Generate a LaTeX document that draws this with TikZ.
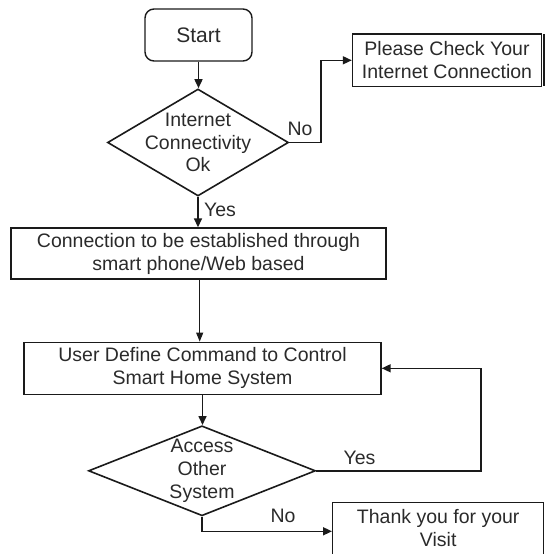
\documentclass[tikz,border=0pt]{standalone}
\usepackage{fontspec}
\setmainfont{Liberation Sans}
\usetikzlibrary{arrows.meta,shapes.geometric}
\definecolor{txt}{HTML}{2A2A2A}
\definecolor{ln}{HTML}{1A1A1A}
\tikzset{
  base/.style={draw=ln, line width=1.4pt, text=txt, align=center, inner sep=0pt,
    font=\fontsize{19.5pt}{23pt}\selectfont},
  proc/.style={base, rectangle},
  term/.style={base, rectangle, rounded corners=9pt},
  dec/.style={base, diamond, line width=1.6pt},
  arr/.style={draw=ln, line width=1.6pt, -{Triangle[length=9pt,width=8pt]}},
  thinarr/.style={draw=ln, line width=0.9pt, -{Triangle[length=9pt,width=7pt]}},
  lbl/.style={text=txt, inner sep=0pt, font=\fontsize{19.5pt}{23pt}\selectfont}
}
\begin{document}
\begin{tikzpicture}[x=1pt,y=-1pt]
\useasboundingbox (0,0) rectangle (545,554);
\node[term, minimum width=107pt, minimum height=52pt, font=\fontsize{21pt}{24pt}\selectfont] (start) at (198.5,35) {Start};
\node[dec, minimum width=181pt, minimum height=107pt,
      label={[lbl, align=center, font=\fontsize{19.5pt}{22.5pt}\selectfont]center:Internet\\Connectivity\\Ok}] (d1) at (198,142.5) {};
\node[proc, minimum width=189pt, minimum height=52.5pt] (check) at (447,60.3) {Please Check Your\\Internet Connection};
\node[proc, minimum width=375pt, minimum height=51pt] (conn) at (198.5,253.5) {Connection to be established through\\smart phone/Web based};
\node[proc, minimum width=357pt, minimum height=52pt] (user) at (202.5,368.3) {User Define Command to Control\\Smart Home System};
\node[dec, minimum width=227pt, minimum height=90pt,
      label={[lbl, align=center, font=\fontsize{19.5pt}{23pt}\selectfont]center:Access\\Other\\System}] (d2) at (202,470.8) {};
\node[proc, minimum width=211pt, minimum height=54pt,
      label={[lbl, align=center, yshift=1.5pt]center:Thank you for your\\Visit}] (thank) at (438.2,529.7) {};
% shadow edge on the check box
\draw[ln, line width=2pt] ([xshift=1.4pt,yshift=-1pt]check.north east) -- ([xshift=1.4pt,yshift=1pt]check.south east);
% connectors
\draw[arr] (start.south) -- (start.south |- d1.north);
\draw[arr] (d1.east) -| ([xshift=-31pt]check.west) -- (check.west);
\draw[arr] (d1.south) -- (d1.south |- conn.north);
\draw[thinarr] ([xshift=1.2pt]conn.south) -- ([xshift=1.2pt]conn.south |- user.north);
\draw[arr] (user.south) -- (user.south |- d2.north);
\draw[arr] (d2.east) -| ([xshift=99pt]user.east) -- (user.east);
\draw[arr] (d2.south) |- ([yshift=-1.6pt]thank.west);
% labels
\node[lbl] (no1) at (300,129) {No};
\node[lbl] (yes1) at (220,210) {Yes};
\node[lbl] (yes2) at (359.5,458) {Yes};
\node[lbl] (no2) at (283,515.5) {No};
\end{tikzpicture}
\end{document}
